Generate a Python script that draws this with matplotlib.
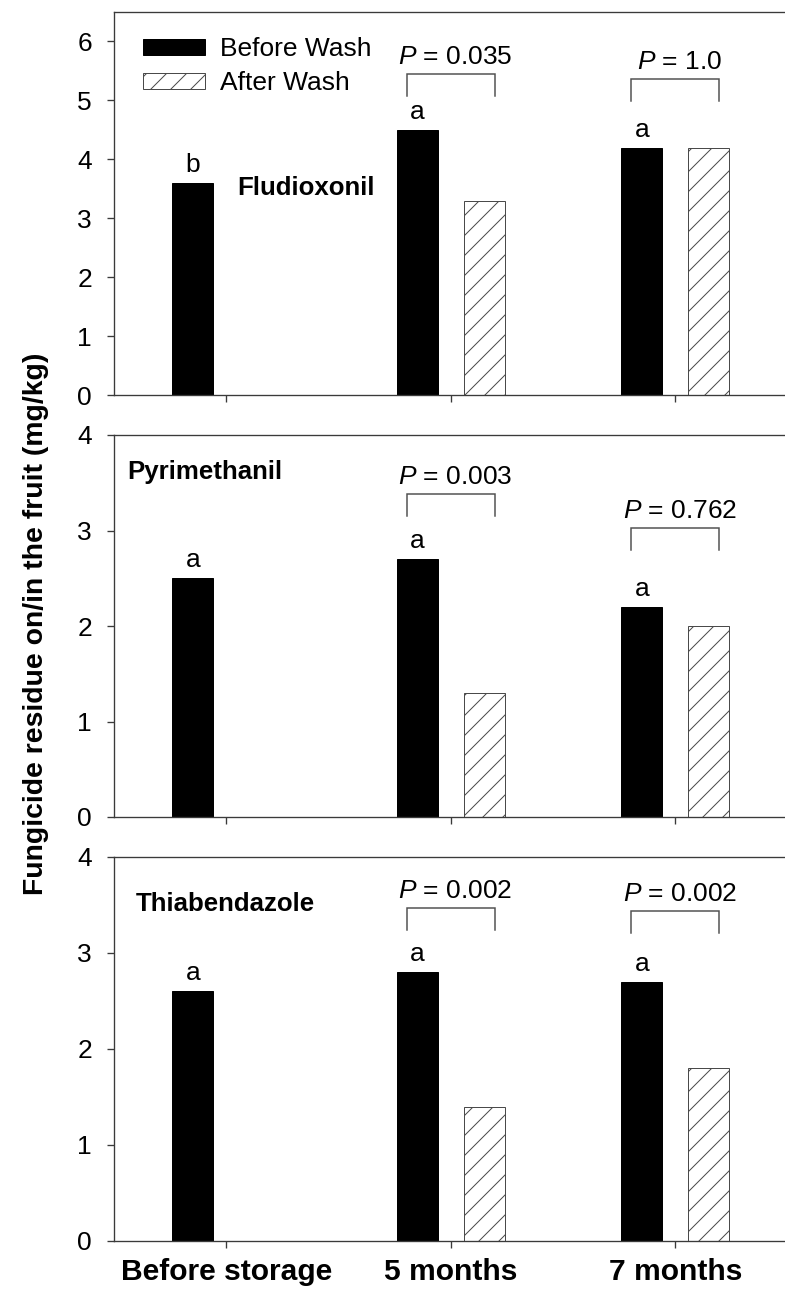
import numpy as np
import matplotlib
matplotlib.use("Agg")
import matplotlib.pyplot as plt

plt.rcParams['font.family'] = ['Liberation Sans', 'DejaVu Sans']
plt.rcParams['mathtext.fontset'] = 'custom'
plt.rcParams['mathtext.it'] = 'Liberation Sans:italic'
plt.rcParams['mathtext.rm'] = 'Liberation Sans'
plt.rcParams['hatch.linewidth'] = 0.6

# ---------------- data ----------------
categories = ['Before storage', '5 months', '7 months']
series_labels = ['Before Wash', 'After Wash']
fungicides = ['Fludioxonil', 'Pyrimethanil', 'Thiabendazole']

fludioxonil_before = [3.6, 4.5, 4.2]
fludioxonil_after = [np.nan, 3.3, 4.2]
pyrimethanil_before = [2.5, 2.7, 2.2]
pyrimethanil_after = [np.nan, 1.3, 2.0]
thiabendazole_before = [2.6, 2.8, 2.7]
thiabendazole_after = [np.nan, 1.4, 1.8]

fludioxonil_letters = ['b', 'a', 'a']
pyrimethanil_letters = ['a', 'a', 'a']
thiabendazole_letters = ['a', 'a', 'a']

fludioxonil_p = [None, '0.035', '1.0']
pyrimethanil_p = [None, '0.003', '0.762']
thiabendazole_p = [None, '0.002', '0.002']

y_max = [6.5, 4, 4]
y_ticks = [[0, 1, 2, 3, 4, 5, 6], [0, 1, 2, 3, 4], [0, 1, 2, 3, 4]]

# annotation layout (bracket top heights, in axis units)
bracket_tops = [[None, 5.44, 5.36], [None, 3.38, 3.03], [None, 3.47, 3.44]]

# ---------------- layout ----------------
W, H, DPI = 785, 1295, 120
fig = plt.figure(figsize=(W / DPI, H / DPI), dpi=DPI)
fig.patch.set_facecolor('white')

left_px = 114
cat_px = 224.5
panel_px = [(12, 395), (435, 817), (857, 1241)]
label_pos = [(0.05, 3.51), (-0.44, 3.61), (-0.405, 3.51)]

spine_col = '#3a3a3a'
brk_col = '#505050'
fs = 15.8

befores = [fludioxonil_before, pyrimethanil_before, thiabendazole_before]
afters = [fludioxonil_after, pyrimethanil_after, thiabendazole_after]
letters = [fludioxonil_letters, pyrimethanil_letters, thiabendazole_letters]
pvals = [fludioxonil_p, pyrimethanil_p, thiabendazole_p]

x = np.arange(len(categories))
off = 0.149
bw = 0.183

for i in range(3):
    top, bot = panel_px[i]
    ax = fig.add_axes([left_px / W, 1 - bot / H, 3 * cat_px / W, (bot - top) / H])
    ax.set_xlim(-0.5, 2.5)
    ax.set_ylim(0, y_max[i])
    px_per_unit = (bot - top) / y_max[i]

    b = np.array(befores[i], dtype=float)
    a = np.array(afters[i], dtype=float)
    mask = ~np.isnan(a)
    hb = ax.bar(x - off, b, bw, color='black', edgecolor='black', linewidth=0.6,
                label=series_labels[0], zorder=2)
    ha_ = ax.bar(x[mask] + off, a[mask], bw, color='white', edgecolor='#4a4a4a',
                 hatch='//', linewidth=0.6, label=series_labels[1], zorder=2)

    # letters above "before wash" bars
    for xi, yi, lt in zip(x, b, letters[i]):
        ax.text(xi - off, yi + 6 / px_per_unit, lt, ha='center', va='bottom',
                fontsize=fs, color='black')

    # P-value brackets
    for xi, p, yt in zip(x, pvals[i], bracket_tops[i]):
        if p is None:
            continue
        y_leg = yt - 22 / px_per_unit
        hw = 0.195
        ax.plot([xi - hw, xi - hw, xi + hw, xi + hw], [y_leg, yt, yt, y_leg],
                color=brk_col, linewidth=0.9, solid_joinstyle='miter', zorder=3)
        ax.text(xi + 0.02, yt + 5 / px_per_unit, r'$P$ = ' + p, ha='center',
                va='bottom', fontsize=fs, color='black')

    ax.text(label_pos[i][0], label_pos[i][1], fungicides[i], ha='left', va='center',
            fontsize=15.5, fontweight='bold')

    # axes style
    ax.spines['right'].set_visible(False)
    for s in ['left', 'top', 'bottom']:
        ax.spines[s].set_color(spine_col)
        ax.spines[s].set_linewidth(0.8)
    ax.set_yticks(y_ticks[i])
    ax.set_xticks(x)
    ax.tick_params(axis='both', direction='out', length=4.2, width=0.8,
                   color=spine_col, labelsize=fs)
    ax.tick_params(axis='y', pad=9)
    if i < 2:
        ax.set_xticklabels([''] * len(categories))
    else:
        ax.set_xticklabels(categories, fontsize=18, fontweight='bold')
        ax.tick_params(axis='x', pad=6)

    if i == 0:
        leg = ax.legend(handles=[hb, ha_], labels=series_labels, loc='upper left',
                        bbox_to_anchor=((143 - left_px) / (3 * cat_px), 1 - (37 - top) / (bot - top)),
                        frameon=False, fontsize=fs, borderpad=0, borderaxespad=0,
                        handlelength=2.35, handleheight=0.57, handletextpad=0.57,
                        labelspacing=0.38)

fig.text(36 / W, 1 - 624 / H, 'Fungicide residue on/in the fruit (mg/kg)', rotation=90,
         ha='center', va='center', fontsize=17, fontweight='bold')

fig.savefig('out.png', dpi=DPI, facecolor='white')
